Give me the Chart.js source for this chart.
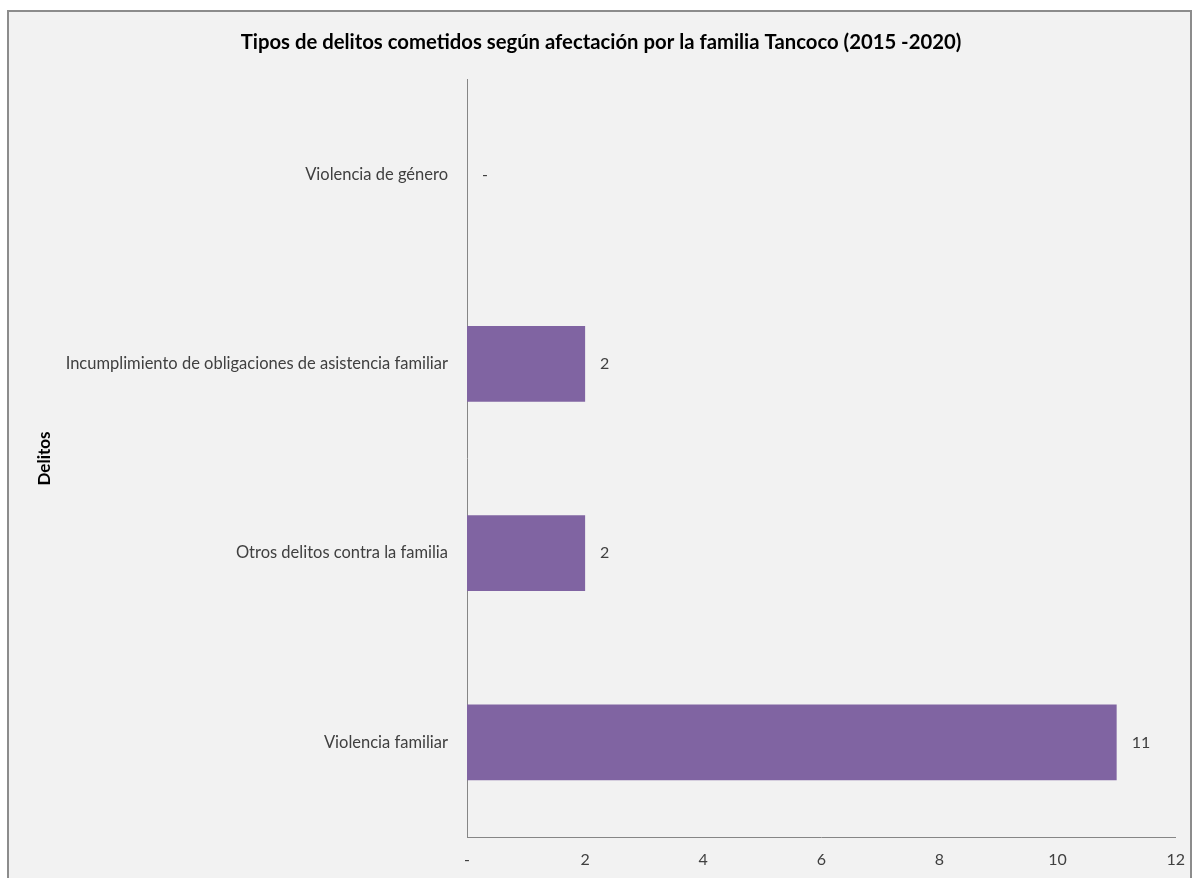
<!DOCTYPE html>
<html>
<head>
<meta charset="utf-8">
<script src="https://cdn.jsdelivr.net/npm/chart.js@4.4.1/dist/chart.umd.min.js"></script>
<style>
  html, body { margin: 0; padding: 0; background: #ffffff; overflow: hidden; }
  #frame {
    position: absolute; left: 7px; top: 10px;
    width: 1181px; height: 880px;
    border: 2px solid #8c8c8c;
    background: #f2f2f2;
  }
  #wrap { position: absolute; left: 0; top: 0; width: 1189px; height: 866px; }
</style>
</head>
<body>
<div id="frame"><div id="wrap"><canvas id="chart"></canvas></div></div>
<script>
const CATEGORIES = [
  "Violencia de género",
  "Incumplimiento de obligaciones de asistencia familiar",
  "Otros delitos contra la familia",
  "Violencia familiar",
];
const CASES = [0, 2, 2, 11];
const X_MAX = 12;
const X_STEP = 2;

const TITLE = "Tipos de delitos cometidos según afectación por la familia Tancoco (2015 -2020)";
const AXIS_TITLE = "Delitos";

const FONT = "Lato, 'Open Sans', sans-serif";
const TEXT = "#404040";

// "0" is written as a dash, like the original
const dashZero = (v) => (Number(v) === 0 ? "-" : String(v));

const valueLabels = {
  id: "valueLabels",
  afterDatasetsDraw(chart) {
    const { ctx } = chart;
    const meta = chart.getDatasetMeta(0);
    ctx.save();
    ctx.font = `16px ${FONT}`;
    ctx.fillStyle = TEXT;
    ctx.textAlign = "left";
    ctx.textBaseline = "middle";
    meta.data.forEach((bar, i) => {
      ctx.fillText(dashZero(CASES[i]), bar.x + 15, bar.y);
    });
    ctx.restore();
  },
};

new Chart(document.querySelector("#chart"), {
  type: "bar",
  data: {
    labels: CATEGORIES,
    datasets: [
      {
        label: "Delitos",
        data: CASES,
        backgroundColor: "#8064a2",
        borderWidth: 0,
        barPercentage: 0.4,
        categoryPercentage: 1,
      },
    ],
  },
  options: {
    indexAxis: "y",
    animation: false,
    responsive: true,
    maintainAspectRatio: false,
    layout: { padding: { left: 0, right: 5, top: 0, bottom: 0 } },
    scales: {
      x: {
        min: 0,
        max: X_MAX,
        afterFit(scale) { scale.height = 41; },
        grid: { display: false, drawTicks: false },
        border: { display: true, color: "#868686", width: 1 },
        ticks: {
          stepSize: X_STEP,
          padding: 13,
          color: TEXT,
          font: { family: FONT, size: 16 },
          callback: dashZero,
        },
      },
      y: {
        afterFit(scale) { scale.width = 458; },
        grid: { display: false, drawTicks: false },
        border: { display: true, color: "#868686", width: 1 },
        ticks: {
          padding: 19,
          color: TEXT,
          font: { family: FONT, size: 16.5 },
        },
        title: {
          display: true,
          text: AXIS_TITLE,
          color: "#000000",
          font: { family: FONT, size: 17, weight: "bold" },
          padding: { top: 25.8, bottom: 0 },
        },
      },
    },
    plugins: {
      legend: { display: false },
      tooltip: { enabled: false },
      title: {
        display: true,
        text: TITLE,
        color: "#000000",
        font: { family: FONT, size: 20.3, weight: "bold", lineHeight: 1.2 },
        padding: { top: 18, bottom: 25.6 },
      },
    },
  },
  plugins: [valueLabels],
});
</script>
</body>
</html>
